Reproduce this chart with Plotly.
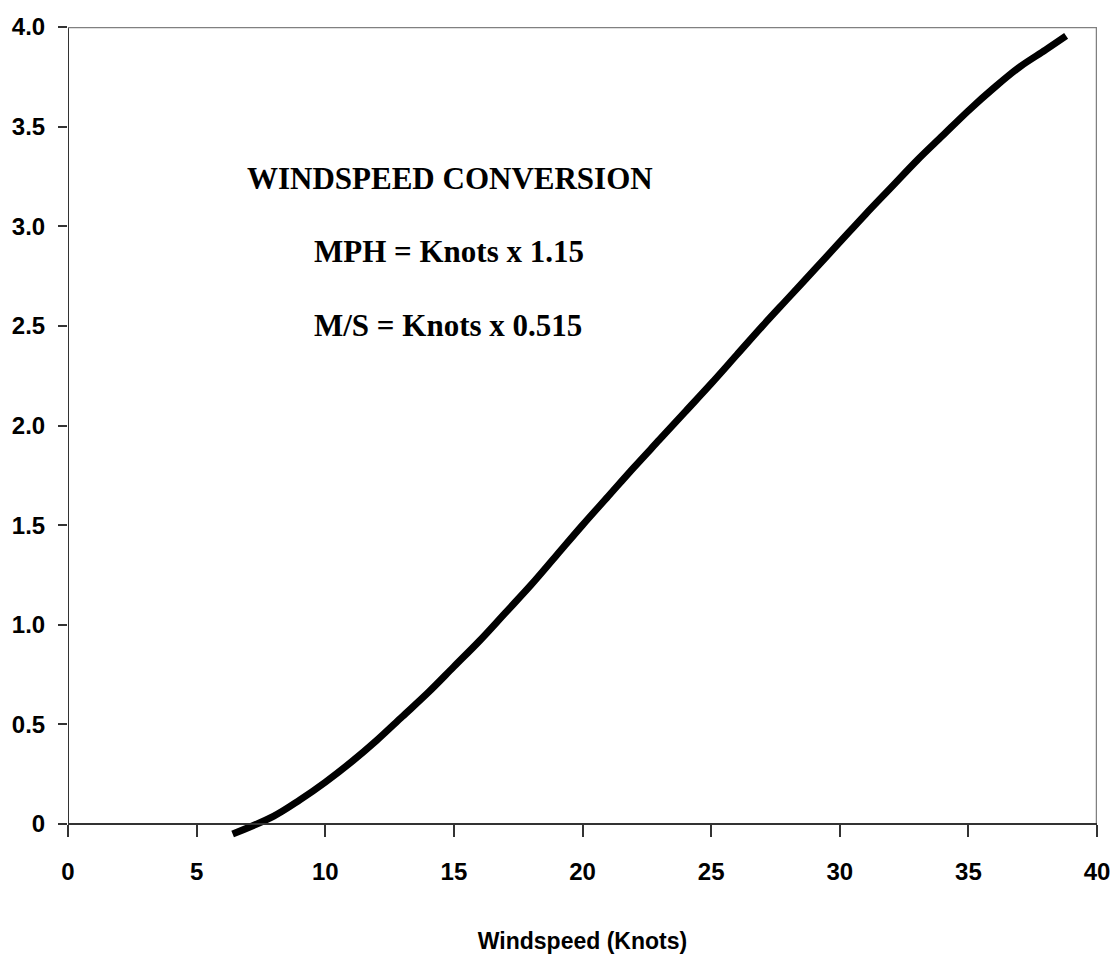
import plotly.graph_objects as go

# Data
knots = [6.4, 8, 9, 10, 11, 12, 13, 14, 15, 16, 17, 18, 19, 20, 21, 22, 23, 24,
         25, 26, 27, 28, 29, 30, 31, 32, 33, 34, 35, 36, 37, 38, 38.8]
values = [-0.05, 0.04, 0.12, 0.21, 0.31, 0.42, 0.54, 0.66, 0.79, 0.92, 1.06, 1.20,
          1.35, 1.50, 1.645, 1.79, 1.93, 2.07, 2.21, 2.355, 2.50, 2.64, 2.78, 2.92,
          3.06, 3.195, 3.33, 3.455, 3.58, 3.695, 3.80, 3.885, 3.955]

x_ticks = [0, 5, 10, 15, 20, 25, 30, 35, 40]
x_tick_text = ["0", "5", "10", "15", "20", "25", "30", "35", "40"]
y_ticks = [0, 0.5, 1.0, 1.5, 2.0, 2.5, 3.0, 3.5, 4.0]
y_tick_text = ["0", "0.5", "1.0", "1.5", "2.0", "2.5", "3.0", "3.5", "4.0"]

notes = ["WINDSPEED CONVERSION", "MPH = Knots x 1.15", "M/S = Knots x 0.515"]
note_pos = [(14.85, 3.24), (14.82, 2.875), (14.78, 2.50)]

W, H = 1117, 956
L, R, T = 68, 1097, 27
zero_px = 824
px_per_unit = (zero_px - T) / 4.0
y_min = -0.08
bottom_px = zero_px + (-y_min) * px_per_unit
B = H - bottom_px
x_axis_pos = (bottom_px - zero_px) / (bottom_px - T)

fig = go.Figure()
fig.add_trace(go.Scatter(
    x=knots, y=values, mode="lines",
    line=dict(color="black", width=7, shape="spline", smoothing=1.0),
    showlegend=False, hoverinfo="skip",
))

tick_font = dict(family="Liberation Sans, Arial, sans-serif", size=24, color="black")

fig.update_layout(
    width=W, height=H,
    margin=dict(l=L, r=W - R, t=T, b=B, pad=0),
    paper_bgcolor="white", plot_bgcolor="white",
    xaxis=dict(
        range=[0, 40], tickvals=x_ticks, ticktext=["<b>%s</b>" % t for t in x_tick_text],
        showgrid=False, zeroline=False, showline=True, linecolor="#333333", linewidth=2,
        ticks="outside", ticklen=12, tickwidth=1.5, tickcolor="#333333",
        tickfont=tick_font, anchor="free", position=x_axis_pos, automargin=False,
        ticklabelstandoff=14,
        title=dict(text="<b>Windspeed (Knots)</b>",
                   font=dict(family="Liberation Sans, Arial, sans-serif", size=23, color="black"),
                   standoff=48),
    ),
    yaxis=dict(
        range=[y_min, 4.0], tickvals=y_ticks, ticktext=["<b>%s</b>" % t for t in y_tick_text],
        showgrid=False, zeroline=False, showline=False, automargin=False,
        ticks="outside", ticklen=9, tickwidth=1.5, tickcolor="#333333",
        tickfont=tick_font, ticklabelstandoff=8,
    ),
)

# frame lines: left dark, top and right grey
fig.add_shape(type="line", xref="x", yref="y", x0=0, x1=0, y0=0, y1=4.0,
              line=dict(color="#333333", width=2), layer="below")
fig.add_shape(type="line", xref="x", yref="y", x0=0, x1=40, y0=4.0, y1=4.0,
              line=dict(color="#808080", width=2.5), layer="below")
fig.add_shape(type="line", xref="x", yref="y", x0=40, x1=40, y0=0, y1=4.0,
              line=dict(color="#808080", width=2.5), layer="below")

for txt, (ax, ay) in zip(notes, note_pos):
    fig.add_annotation(x=ax, y=ay, xref="x", yref="y", text="<b>%s</b>" % txt,
                       showarrow=False,
                       font=dict(family="Liberation Serif, Times New Roman, serif", size=31, color="black"))

fig.write_html("out.html", config={"displayModeBar": False},
               post_script="document.body.style.margin='0';")
